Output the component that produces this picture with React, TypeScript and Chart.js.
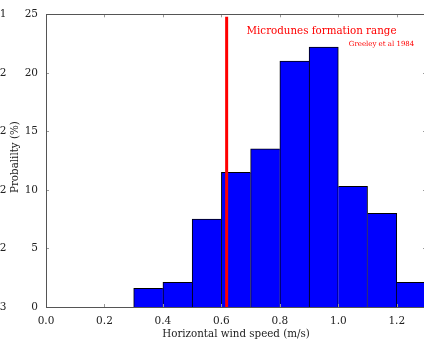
import React, { useEffect, useRef } from "react";
import { Chart, registerables } from "chart.js";

Chart.register(...registerables);

// ---- data ----
const binEdges = [0.3, 0.4, 0.5, 0.6, 0.7, 0.8, 0.9, 1.0, 1.1, 1.2, 1.3];
const probability = [1.6, 2.1, 7.5, 11.5, 13.5, 21.0, 22.2, 10.3, 8.0, 2.1];
const thresholdSpeed = 0.618;
const thresholdTop = 24.8;
const xTickValues = [0, 0.2, 0.4, 0.6, 0.8, 1.0, 1.2];
const yTickValues = [0, 5, 10, 15, 20, 25];
const strayLabels = ["3", "2", "2", "2", "2", "1"];
const mainNote = "Microdunes formation range";
const mainNoteAt = [0.686, 23.3];
const refNote = "Greeley et al 1984";
const refNoteAt = [1.036, 22.3];
const xTitle = "Horizontal wind speed (m/s)";
const yTitle = "Probalilty (%)";
const yTitleAt = 12.8; // value at which the y title is centred

const FONT = "'DejaVu Serif', serif";

const barPoints = probability.map((v, i) => ({ x: (binEdges[i] + binEdges[i + 1]) / 2, y: v }));

const framePlugin = {
  id: "frame",
  afterDatasetsDraw(chart: any) {
    const { ctx, chartArea: a, scales } = chart;
    const xs = scales.x;
    const ys = scales.y;
    ctx.save();
    ctx.strokeStyle = "#999";
    ctx.lineWidth = 1;
    const tl = 3;
    xTickValues.forEach((v) => {
      const px = Math.round(xs.getPixelForValue(v)) + 0.5;
      ctx.beginPath();
      ctx.moveTo(px, a.bottom);
      ctx.lineTo(px, a.bottom - tl);
      ctx.moveTo(px, a.top);
      ctx.lineTo(px, a.top + tl);
      ctx.stroke();
    });
    yTickValues.forEach((v) => {
      const py = Math.round(ys.getPixelForValue(v)) + 0.5;
      ctx.beginPath();
      ctx.moveTo(a.left, py);
      ctx.lineTo(a.left + tl, py);
      ctx.moveTo(a.right, py);
      ctx.lineTo(a.right - tl, py);
      ctx.stroke();
    });
    ctx.strokeStyle = "#555";
    ctx.strokeRect(Math.round(a.left) + 0.5, Math.round(a.top) + 0.5, Math.round(a.right - a.left), Math.round(a.bottom - a.top));
    ctx.restore();
  },
  afterDraw(chart: any) {
    const { ctx, scales } = chart;
    const xs = scales.x;
    const ys = scales.y;
    ctx.save();
    ctx.fillStyle = "#ff0000";
    ctx.textBaseline = "alphabetic";
    ctx.textAlign = "left";
    ctx.font = `10.3px ${FONT}`;
    ctx.fillText(mainNote, xs.getPixelForValue(mainNoteAt[0]), ys.getPixelForValue(mainNoteAt[1]));
    ctx.font = `7px ${FONT}`;
    ctx.fillText(refNote, xs.getPixelForValue(refNoteAt[0]), ys.getPixelForValue(refNoteAt[1]));
    // fragments of a neighbouring panel's labels at the far left
    ctx.fillStyle = "#222";
    ctx.font = `10.5px ${FONT}`;
    ctx.textAlign = "right";
    ctx.textBaseline = "middle";
    yTickValues.forEach((v, i) => {
      ctx.fillText(strayLabels[i], 6.5, ys.getPixelForValue(v));
    });
    // y axis title
    ctx.translate(15, ys.getPixelForValue(yTitleAt));
    ctx.rotate(-Math.PI / 2);
    ctx.textAlign = "center";
    ctx.textBaseline = "middle";
    ctx.font = `10.3px ${FONT}`;
    ctx.fillText(yTitle, 0, 0);
    ctx.restore();
  },
};

export default function App() {
  const ref = useRef<HTMLCanvasElement | null>(null);
  useEffect(() => {
    if (!ref.current) return;
    const chart = new Chart(ref.current, {
      type: "bar",
      data: {
        datasets: [
          {
            type: "line",
            data: [
              { x: thresholdSpeed, y: 0 },
              { x: thresholdSpeed, y: thresholdTop },
            ],
            borderColor: "#ff0000",
            borderWidth: 3,
            pointRadius: 0,
            order: 0,
          } as any,
          {
            type: "bar",
            data: barPoints as any,
            backgroundColor: "#0000ff",
            borderColor: "#000000",
            borderSkipped: false,
            borderWidth: (c: any) => {
              const i = c.dataIndex;
              const v = probability[i];
              const prev = i > 0 ? probability[i - 1] : -1;
              const next = i < probability.length - 1 ? probability[i + 1] : -1;
              return { top: 1, bottom: 0, left: v >= prev ? 1 : 0, right: v > next ? 1 : 0 };
            },
            barPercentage: 1,
            categoryPercentage: 1,
            order: 1,
          } as any,
        ],
      },
      options: {
        animation: false,
        responsive: false,
        events: [],
        layout: { padding: { top: 13, right: 14, left: 0, bottom: 0 } },
        plugins: { legend: { display: false }, tooltip: { enabled: false } },
        scales: {
          x: {
            type: "linear",
            min: 0,
            max: 1.3,
            offset: false,
            grid: { display: false, offset: false, drawTicks: false },
            border: { display: false },
            afterFit: (s: any) => {
              s.height = 34;
            },
            afterBuildTicks: (s: any) => {
              s.ticks = xTickValues.map((v) => ({ value: v }));
            },
            ticks: {
              padding: 8,
              color: "#222",
              font: { family: FONT, size: 10.5 },
              maxRotation: 0,
              autoSkip: false,
              callback: (v: any) => Number(v).toFixed(1),
            },
            title: {
              display: true,
              text: xTitle,
              color: "#222",
              font: { family: FONT, size: 10.3 },
              padding: { top: 0, bottom: 0 },
            },
          },
          y: {
            type: "linear",
            min: 0,
            max: 25,
            grid: { display: false, drawTicks: false },
            border: { display: false },
            afterFit: (s: any) => {
              s.width = 46;
            },
            afterBuildTicks: (s: any) => {
              s.ticks = yTickValues.map((v) => ({ value: v }));
            },
            ticks: {
              padding: 8,
              color: "#222",
              font: { family: FONT, size: 10.5 },
              autoSkip: false,
            },
            title: { display: false },
          },
        },
      } as any,
      plugins: [framePlugin],
    });
    return () => chart.destroy();
  }, []);
  return (
    <div style={{ position: "fixed", left: 0, top: 0, width: 424, height: 341, overflow: "hidden", background: "#fff" }}>
      <canvas ref={ref} width={440} height={341} style={{ width: 440, height: 341, display: "block" }} />
    </div>
  );
}
